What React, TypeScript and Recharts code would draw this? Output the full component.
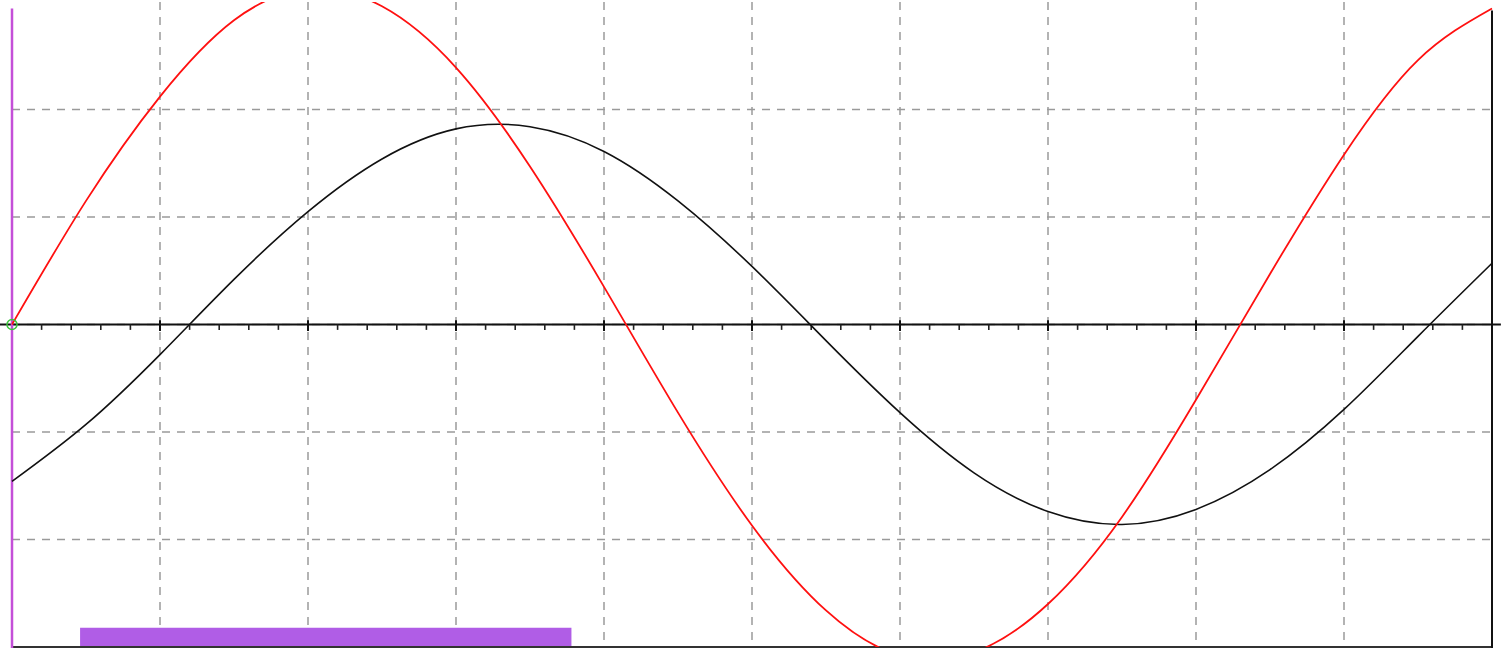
import React from 'react';
import {
  ComposedChart,
  Line,
  XAxis,
  YAxis,
  CartesianGrid,
  ReferenceLine,
  ReferenceArea,
  ReferenceDot,
} from 'recharts';

// time in grid divisions
const timeSteps = [0, 0.5, 1, 1.5, 2, 2.5, 3, 3.5, 4, 4.5, 5, 5.5, 6, 6.5, 7, 7.5, 8, 8.5, 9, 9.5, 10];
const blackTrace = [
  -1.46, -0.93, -0.28, 0.42, 1.05, 1.54, 1.82, 1.84, 1.61, 1.15, 0.54, -0.15, -0.82, -1.38, -1.74,
  -1.86, -1.72, -1.35, -0.79, -0.11, 0.57,
];
const redTrace = [
  0, 1.15, 2.12, 2.83, 3.12, 2.96, 2.39, 1.47, 0.35, -0.82, -1.87, -2.66, -3.08, -3.05, -2.6, -1.79,
  -0.7, 0.47, 1.58, 2.46, 2.94,
];

const gridX = [1, 2, 3, 4, 5, 6, 7, 8, 9];
const gridY = [-2, -1, 0, 1, 2];
const majorTicks = [1, 2, 3, 4, 5, 6, 7, 8, 9];
const minorTicks = [
  0.2, 0.4, 0.6, 0.8, 1.2, 1.4, 1.6, 1.8, 2.2, 2.4, 2.6, 2.8, 3.2, 3.4, 3.6, 3.8, 4.2, 4.4, 4.6, 4.8,
  5.2, 5.4, 5.6, 5.8, 6.2, 6.4, 6.6, 6.8, 7.2, 7.4, 7.6, 7.8, 8.2, 8.4, 8.6, 8.8, 9.2, 9.4, 9.6, 9.8,
];
const cursorBar = { from: 0.46, to: 3.78 };

const data = timeSteps.map((t, i) => ({ t, black: blackTrace[i], red: redTrace[i] }));

export default function App() {
  return (
    <div style={{ position: 'absolute', left: 0, top: 0, width: 1504, height: 648, background: '#fff' }}>
      <ComposedChart width={1504} height={648} data={data} margin={{ top: 2, right: 12, bottom: 1, left: 12 }}>
        <CartesianGrid
          stroke="#9a9a9a"
          strokeWidth={1.5}
          strokeDasharray="8 7"
          horizontalValues={gridY}
          verticalValues={gridX}
        />
        <XAxis dataKey="t" type="number" domain={[0, 10]} ticks={gridX} hide />
        <YAxis type="number" domain={[-3, 3]} ticks={gridY} allowDataOverflow hide />

        <ReferenceArea
          x1={cursorBar.from}
          x2={cursorBar.to}
          y1={-3}
          y2={-2.82}
          fill="#b05de6"
          fillOpacity={1}
          stroke="none"
        />
        <ReferenceLine y={-3} stroke="#333" strokeWidth={2} />
        <ReferenceLine
          segment={[{ x: -0.1, y: 0 }, { x: 10.06, y: 0 }]}
          stroke="#111"
          strokeWidth={2}
          ifOverflow="visible"
        />
        {minorTicks.map((p) => (
          <ReferenceLine
            key={'m' + p}
            segment={[{ x: p, y: 0 }, { x: p, y: -0.05 }]}
            stroke="#222"
            strokeWidth={1.6}
            ifOverflow="visible"
          />
        ))}
        {majorTicks.map((p) => (
          <ReferenceLine
            key={'M' + p}
            segment={[{ x: p, y: 0.04 }, { x: p, y: -0.06 }]}
            stroke="#111"
            strokeWidth={2}
            ifOverflow="visible"
          />
        ))}
        <ReferenceLine
          segment={[{ x: 0, y: 2.94 }, { x: 0, y: -3.05 }]}
          stroke="#c44fd8"
          strokeWidth={2.5}
          ifOverflow="visible"
        />
        <ReferenceLine
          segment={[{ x: 10, y: 2.92 }, { x: 10, y: -3.05 }]}
          stroke="#111"
          strokeWidth={2}
          ifOverflow="visible"
        />

        <Line
          type="natural"
          dataKey="black"
          stroke="#111"
          strokeWidth={1.6}
          dot={false}
          isAnimationActive={false}
        />
        <Line
          type="natural"
          dataKey="red"
          stroke="#ff1010"
          strokeWidth={1.8}
          dot={false}
          isAnimationActive={false}
        />
        <ReferenceDot x={0} y={0} r={5} fill="none" stroke="#3cc43c" strokeWidth={1.5} ifOverflow="visible" />
      </ComposedChart>
    </div>
  );
}
